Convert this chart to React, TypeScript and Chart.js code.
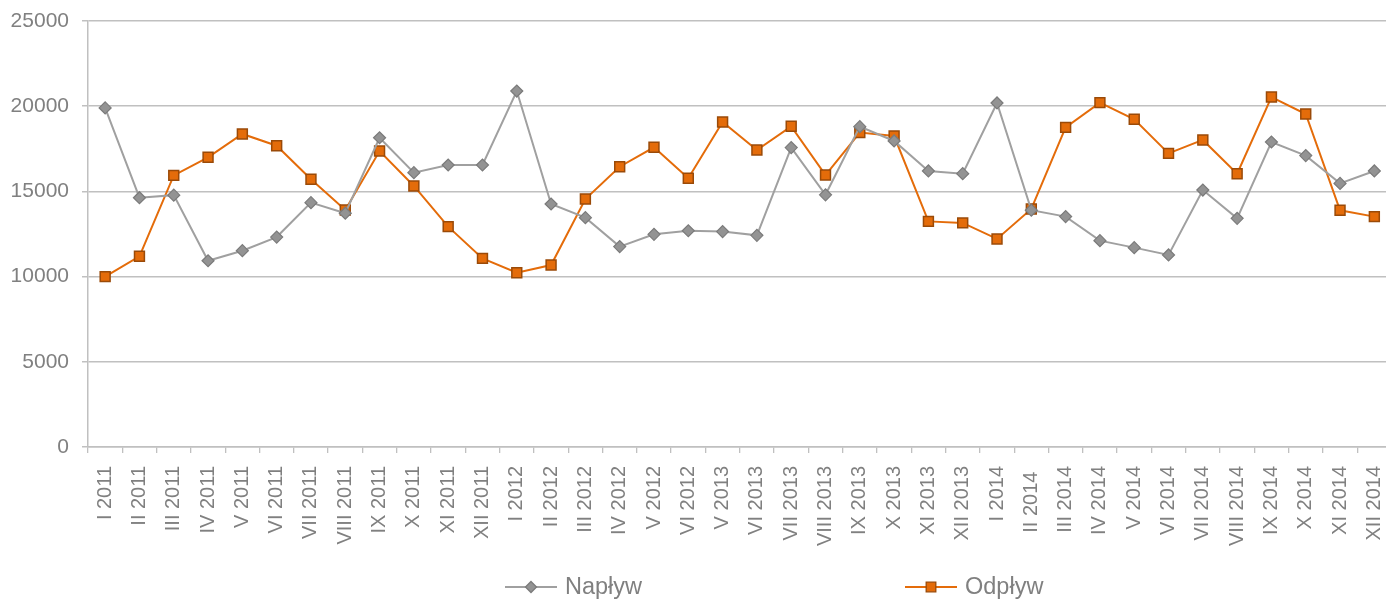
import { useEffect, useRef } from "react";
import { Chart, registerables } from "chart.js";

Chart.register(...registerables);

const categories = [
  "I 2011", "II 2011", "III 2011", "IV 2011", "V 2011", "VI 2011", "VII 2011", "VIII 2011",
  "IX 2011", "X 2011", "XI 2011", "XII 2011", "I 2012", "II 2012", "III 2012", "IV 2012",
  "V 2012", "VI 2012", "V 2013", "VI 2013", "VII 2013", "VIII 2013", "IX 2013", "X 2013",
  "XI 2013", "XII 2013", "I 2014", "II 2014 ", "III 2014", "IV 2014", "V 2014", "VI 2014",
  "VII 2014", "VIII 2014", "IX 2014", "X 2014", "XI 2014", "XII 2014",
];

const naplyw = [
  19900, 14630, 14780, 10930, 11520, 12320, 14340, 13720,
  18150, 16100, 16550, 16550, 20890, 14260, 13460, 11760,
  12480, 12690, 12640, 12420, 17570, 14800, 18800, 17960,
  16200, 16040, 20190, 13900, 13520, 12110, 11700, 11270,
  15080, 13420, 17900, 17100, 15470, 16200,
];

const odplyw = [
  10000, 11190, 15940, 17000, 18370, 17680, 15710, 13910,
  17370, 15320, 12930, 11070, 10230, 10680, 14550, 16450,
  17590, 15770, 19070, 17430, 18820, 15960, 18450, 18250,
  13240, 13150, 12210, 13970, 18760, 20210, 19230, 17230,
  18020, 16040, 20540, 19540, 13890, 13520,
];

const seriesNames = ["Napływ", "Odpływ"];
const yTickValues = [0, 5000, 10000, 15000, 20000, 25000];

const FONT = '"Liberation Sans", Arial, sans-serif';
const TEXT = "#808080";
const GRID = "#c0c0c0";
const GRAY_LINE = "#a0a0a0";
const GRAY_FILL = "#939393";
const GRAY_BORDER = "#7b7b7b";
const ORANGE = "#e46c0a";
const ORANGE_BORDER = "#9a4a08";

const CANVAS_W = 1400;
const CANVAS_H = 601;
const legendStarts = [505, 905];

const zeroPad = (s: any) => {
  s.paddingLeft = 0;
  s.paddingRight = 0;
  s.paddingTop = 0;
  s.paddingBottom = 0;
};

const customLegend = {
  id: "customLegend",
  afterDraw(chart: any) {
    const ctx = chart.ctx as CanvasRenderingContext2D;
    const y = 587;
    chart.data.datasets.forEach((ds: any, i: number) => {
      const x0 = legendStarts[i];
      ctx.save();
      ctx.strokeStyle = ds.borderColor;
      ctx.lineWidth = 2;
      ctx.beginPath();
      ctx.moveTo(x0, y);
      ctx.lineTo(x0 + 52, y);
      ctx.stroke();
      const cx = x0 + 26;
      ctx.fillStyle = ds.pointBackgroundColor;
      ctx.strokeStyle = ds.pointBorderColor;
      ctx.lineWidth = 1.3;
      ctx.beginPath();
      if (ds.pointStyle === "rectRot") {
        const r = 5.5;
        ctx.moveTo(cx, y - r);
        ctx.lineTo(cx + r, y);
        ctx.lineTo(cx, y + r);
        ctx.lineTo(cx - r, y);
        ctx.closePath();
      } else {
        const h = 4.8;
        ctx.rect(cx - h, y - h, 2 * h, 2 * h);
      }
      ctx.fill();
      ctx.stroke();
      ctx.fillStyle = TEXT;
      ctx.font = `23.5px ${FONT}`;
      ctx.textBaseline = "middle";
      ctx.textAlign = "left";
      ctx.fillText(ds.label, x0 + 60, y + 1);
      ctx.restore();
    });
  },
};

export default function App() {
  const ref = useRef<HTMLCanvasElement | null>(null);

  useEffect(() => {
    if (!ref.current) return;
    const chart = new Chart(ref.current, {
      type: "line",
      data: {
        labels: categories,
        datasets: [
          {
            label: seriesNames[0],
            data: naplyw,
            borderColor: GRAY_LINE,
            borderWidth: 2,
            pointStyle: "rectRot",
            pointRadius: 6,
            pointBackgroundColor: GRAY_FILL,
            pointBorderColor: GRAY_BORDER,
            pointBorderWidth: 1.2,
            tension: 0,
          },
          {
            label: seriesNames[1],
            data: odplyw,
            borderColor: ORANGE,
            borderWidth: 2,
            pointStyle: "rect",
            pointRadius: 7,
            pointBackgroundColor: ORANGE,
            pointBorderColor: ORANGE_BORDER,
            pointBorderWidth: 1.5,
            tension: 0,
          },
        ],
      },
      options: {
        animation: false,
        responsive: false,
        devicePixelRatio: 1,
        layout: { padding: { top: 21, right: 6, bottom: 0, left: 0 } },
        plugins: {
          legend: { display: false },
          tooltip: { enabled: false },
        },
        scales: {
          x: {
            type: "category",
            offset: true,
            afterFit: (s: any) => {
              s.height = 154;
              zeroPad(s);
            },
            grid: {
              display: true,
              drawOnChartArea: false,
              drawTicks: true,
              tickLength: 6,
              color: GRID,
              lineWidth: 1.3,
              offset: true,
            },
            border: { display: true, color: GRID, width: 1.5 },
            ticks: {
              autoSkip: false,
              maxRotation: 90,
              minRotation: 90,
              padding: 13,
              color: TEXT,
              font: { family: FONT, size: 20 },
            },
          },
          y: {
            min: 0,
            max: 25000,
            afterFit: (s: any) => {
              s.width = 88;
              zeroPad(s);
            },
            afterBuildTicks: (s: any) => {
              s.ticks = yTickValues.map((v) => ({ value: v }));
            },
            grid: {
              color: GRID,
              lineWidth: 1.5,
              drawTicks: true,
              tickLength: 6,
            },
            border: { display: true, color: GRID, width: 1.5 },
            ticks: {
              padding: 13,
              color: TEXT,
              font: { family: FONT, size: 21 },
              callback: (v: any) => String(v),
            },
          },
        },
      },
      plugins: [customLegend],
    });
    return () => chart.destroy();
  }, []);

  return (
    <div
      style={{
        position: "fixed",
        left: 0,
        top: 0,
        width: 1386,
        height: 601,
        overflow: "hidden",
        background: "#fff",
      }}
    >
      <canvas
        ref={ref}
        width={CANVAS_W}
        height={CANVAS_H}
        style={{ display: "block", width: CANVAS_W, height: CANVAS_H }}
      />
    </div>
  );
}
